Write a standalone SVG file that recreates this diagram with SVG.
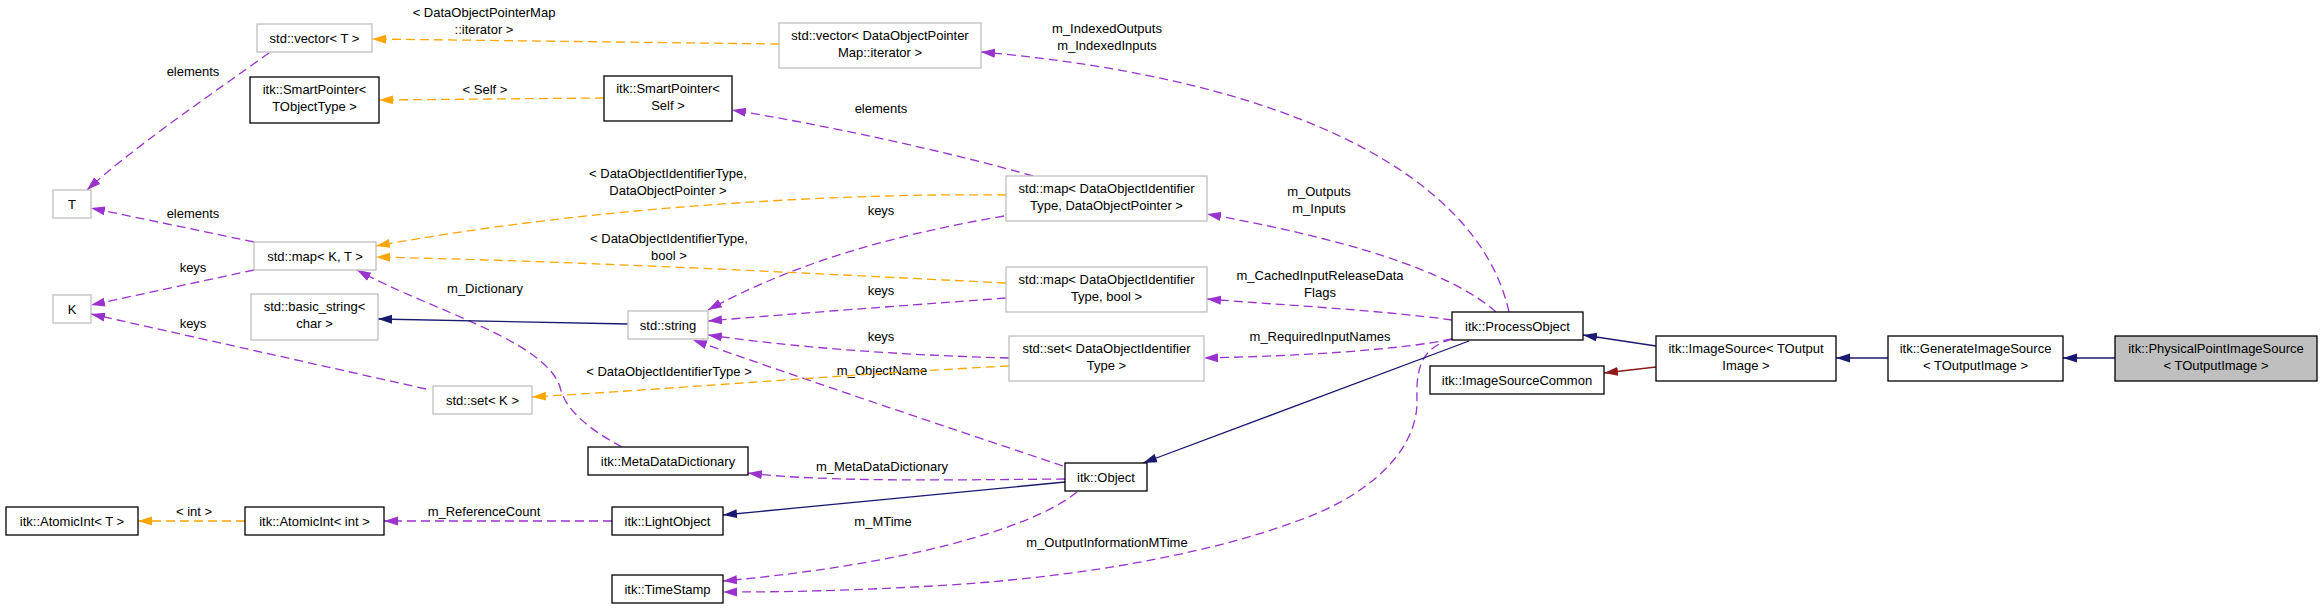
<svg xmlns="http://www.w3.org/2000/svg" width="2323" height="609" viewBox="0 0 2323 609">
<style>
text{font-family:"Liberation Sans",Arial,sans-serif;font-size:13px;fill:#000;text-anchor:middle}
.g rect{fill:#fff;stroke:#bfbfbf;stroke-width:1.3}
.b rect{fill:#fff;stroke:#000;stroke-width:1.3}
.hl rect{fill:#bfbfbf;stroke:#000;stroke-width:1.3}
.p{fill:none;stroke:#9a32cd;stroke-width:1.3;stroke-dasharray:9,5;marker-end:url(#mp)}
.o{fill:none;stroke:#ffa500;stroke-width:1.3;stroke-dasharray:9,5;marker-end:url(#mo)}
.n{fill:none;stroke:#191970;stroke-width:1.3;marker-end:url(#mn)}
.r{fill:none;stroke:#8b1a1a;stroke-width:1.3;marker-end:url(#mr)}
</style>
<defs>
<marker id="mp" markerWidth="15" markerHeight="10" refX="14" refY="5" orient="auto" markerUnits="userSpaceOnUse"><path d="M0,0.5 L14,5 L0,9.5 z" fill="#9a32cd"/></marker>
<marker id="mo" markerWidth="15" markerHeight="10" refX="14" refY="5" orient="auto" markerUnits="userSpaceOnUse"><path d="M0,0.5 L14,5 L0,9.5 z" fill="#ffa500"/></marker>
<marker id="mn" markerWidth="15" markerHeight="10" refX="14" refY="5" orient="auto" markerUnits="userSpaceOnUse"><path d="M0,0.5 L14,5 L0,9.5 z" fill="#191970"/></marker>
<marker id="mr" markerWidth="15" markerHeight="10" refX="14" refY="5" orient="auto" markerUnits="userSpaceOnUse"><path d="M0,0.5 L14,5 L0,9.5 z" fill="#8b1a1a"/></marker>
</defs>
<rect width="2323" height="609" fill="#fff"/>
<g id="connectors">
<path class="o" d="M779,44 L372,39"/>
<text x="484" y="17">&lt; DataObjectPointerMap</text>
<text x="484" y="34">::iterator &gt;</text>
<path class="o" d="M604,98 L379,100"/>
<text x="485" y="94">&lt; Self &gt;</text>
<path class="p" d="M1033,176 C950,152 820,124 732,110"/>
<text x="881" y="113">elements</text>
<path class="p" d="M1509,312 C1480,180 1300,80 981,52"/>
<text x="1107" y="33">m_IndexedOutputs</text>
<text x="1107" y="50">m_IndexedInputs</text>
<path class="p" d="M1496,312 C1460,280 1380,245 1207,214"/>
<text x="1319" y="196">m_Outputs</text>
<text x="1319" y="213">m_Inputs</text>
<path class="p" d="M1452,320 C1380,310 1280,305 1207,299"/>
<text x="1320" y="280">m_CachedInputReleaseData</text>
<text x="1320" y="297">Flags</text>
<path class="p" d="M1452,339 C1400,350 1300,356 1204,358"/>
<text x="1320" y="341">m_RequiredInputNames</text>
<path class="p" d="M1452,339 C1420,348 1416,370 1417,400 C1418,450 1370,495 1300,520 C1220,550 1100,575 950,585 C850,591 780,592 723,592"/>
<text x="1107" y="547">m_OutputInformationMTime</text>
<path class="p" d="M1077,492 C1030,530 900,565 723,581"/>
<text x="883" y="526">m_MTime</text>
<path class="n" d="M1469,341 L1143,463"/>
<path class="n" d="M1065,482 L723,515"/>
<path class="p" d="M1065,479 C950,480 820,482 748,473"/>
<text x="882" y="471">m_MetaDataDictionary</text>
<path class="p" d="M1063,466 C950,428 800,378 693,340"/>
<text x="882" y="375">m_ObjectName</text>
<path class="p" d="M1004,216 C900,234 800,260 708,310"/>
<text x="881" y="215">keys</text>
<path class="p" d="M1006,298 C900,306 800,313 708,321"/>
<text x="881" y="295">keys</text>
<path class="p" d="M1009,358 C900,355 800,348 708,335"/>
<text x="881" y="341">keys</text>
<path class="o" d="M1006,195 C850,193 600,205 376,246"/>
<text x="668" y="178">&lt; DataObjectIdentifierType,</text>
<text x="668" y="195">DataObjectPointer &gt;</text>
<path class="o" d="M1006,283 C800,273 600,262 376,257"/>
<text x="669" y="243">&lt; DataObjectIdentifierType,</text>
<text x="669" y="260">bool &gt;</text>
<path class="o" d="M1009,366 C850,374 700,387 532,397"/>
<text x="669" y="376">&lt; DataObjectIdentifierType &gt;</text>
<path class="p" d="M269,53 C210,95 130,150 87,190"/>
<text x="193" y="76">elements</text>
<path class="p" d="M254,242 L91,208"/>
<text x="193" y="218">elements</text>
<path class="p" d="M254,270 L91,305"/>
<text x="193" y="272">keys</text>
<path class="p" d="M426,389 L91,314"/>
<text x="193" y="328">keys</text>
<path class="p" d="M622,447 C590,430 565,410 560,387 C545,340 430,310 357,270"/>
<text x="485" y="293">m_Dictionary</text>
<path class="n" d="M628,324 L378,319"/>
<path class="o" d="M245,521 L138,521"/>
<text x="194" y="516">&lt; int &gt;</text>
<path class="p" d="M612,521 L384,521"/>
<text x="484" y="516">m_ReferenceCount</text>
<path class="n" d="M1656,346 L1583,335"/>
<path class="r" d="M1656,367 L1604,373"/>
<path class="n" d="M1888,358 L1836,358"/>
<path class="n" d="M2115,358 L2063,358"/>
</g>
<g id="vecDOP" class="g"><rect x="779" y="23" width="202" height="45"/><text x="880" y="39.5">std::vector&lt; DataObjectPointer</text><text x="880" y="56.5">Map::iterator &gt;</text></g>
<g id="vecT" class="g"><rect x="257" y="24" width="115" height="28"/><text x="314.5" y="42.5">std::vector&lt; T &gt;</text></g>
<g id="spT" class="b"><rect x="250" y="77" width="129" height="46"/><text x="314.5" y="93.5">itk::SmartPointer&lt;</text><text x="314.5" y="110.5">TObjectType &gt;</text></g>
<g id="spSelf" class="b"><rect x="604" y="76" width="128" height="45"/><text x="668" y="92.5">itk::SmartPointer&lt;</text><text x="668" y="109.5">Self &gt;</text></g>
<g id="T" class="g"><rect x="53" y="190" width="38" height="28"/><text x="72" y="208.5">T</text></g>
<g id="mapKT" class="g"><rect x="254" y="242" width="122" height="28"/><text x="315" y="260.5">std::map&lt; K, T &gt;</text></g>
<g id="K" class="g"><rect x="53" y="295" width="38" height="28"/><text x="72" y="313.5">K</text></g>
<g id="bstr" class="g"><rect x="251" y="294" width="127" height="46"/><text x="314.5" y="310.5">std::basic_string&lt;</text><text x="314.5" y="327.5">char &gt;</text></g>
<g id="str" class="g"><rect x="628" y="311" width="80" height="28"/><text x="668" y="329.5">std::string</text></g>
<g id="setK" class="g"><rect x="433" y="386" width="99" height="28"/><text x="482.5" y="404.5">std::set&lt; K &gt;</text></g>
<g id="mdd" class="b"><rect x="588" y="447" width="160" height="28"/><text x="668" y="465.5">itk::MetaDataDictionary</text></g>
<g id="aiT" class="b"><rect x="6" y="507" width="132" height="28"/><text x="72" y="525.5">itk::AtomicInt&lt; T &gt;</text></g>
<g id="aiInt" class="b"><rect x="245" y="507" width="139" height="28"/><text x="314.5" y="525.5">itk::AtomicInt&lt; int &gt;</text></g>
<g id="lo" class="b"><rect x="612" y="507" width="111" height="28"/><text x="667.5" y="525.5">itk::LightObject</text></g>
<g id="ts" class="b"><rect x="612" y="575" width="111" height="28"/><text x="667.5" y="593.5">itk::TimeStamp</text></g>
<g id="mapDOP" class="g"><rect x="1006" y="176" width="201" height="45"/><text x="1106.5" y="192.5">std::map&lt; DataObjectIdentifier</text><text x="1106.5" y="209.5">Type, DataObjectPointer &gt;</text></g>
<g id="mapBool" class="g"><rect x="1006" y="267" width="201" height="45"/><text x="1106.5" y="283.5">std::map&lt; DataObjectIdentifier</text><text x="1106.5" y="300.5">Type, bool &gt;</text></g>
<g id="setDOIT" class="g"><rect x="1009" y="336" width="195" height="45"/><text x="1106.5" y="352.5">std::set&lt; DataObjectIdentifier</text><text x="1106.5" y="369.5">Type &gt;</text></g>
<g id="po" class="b"><rect x="1452" y="312" width="131" height="28"/><text x="1517.5" y="330.5">itk::ProcessObject</text></g>
<g id="isc" class="b"><rect x="1430" y="366" width="174" height="28"/><text x="1517" y="384.5">itk::ImageSourceCommon</text></g>
<g id="obj" class="b"><rect x="1065" y="463" width="82" height="28"/><text x="1106" y="481.5">itk::Object</text></g>
<g id="is" class="b"><rect x="1656" y="336" width="180" height="45"/><text x="1746" y="352.5">itk::ImageSource&lt; TOutput</text><text x="1746" y="369.5">Image &gt;</text></g>
<g id="gis" class="b"><rect x="1888" y="336" width="175" height="45"/><text x="1975.5" y="352.5">itk::GenerateImageSource</text><text x="1975.5" y="369.5">&lt; TOutputImage &gt;</text></g>
<g id="ppis" class="hl"><rect x="2115" y="336" width="202" height="45"/><text x="2216" y="352.5">itk::PhysicalPointImageSource</text><text x="2216" y="369.5">&lt; TOutputImage &gt;</text></g>
</svg>
